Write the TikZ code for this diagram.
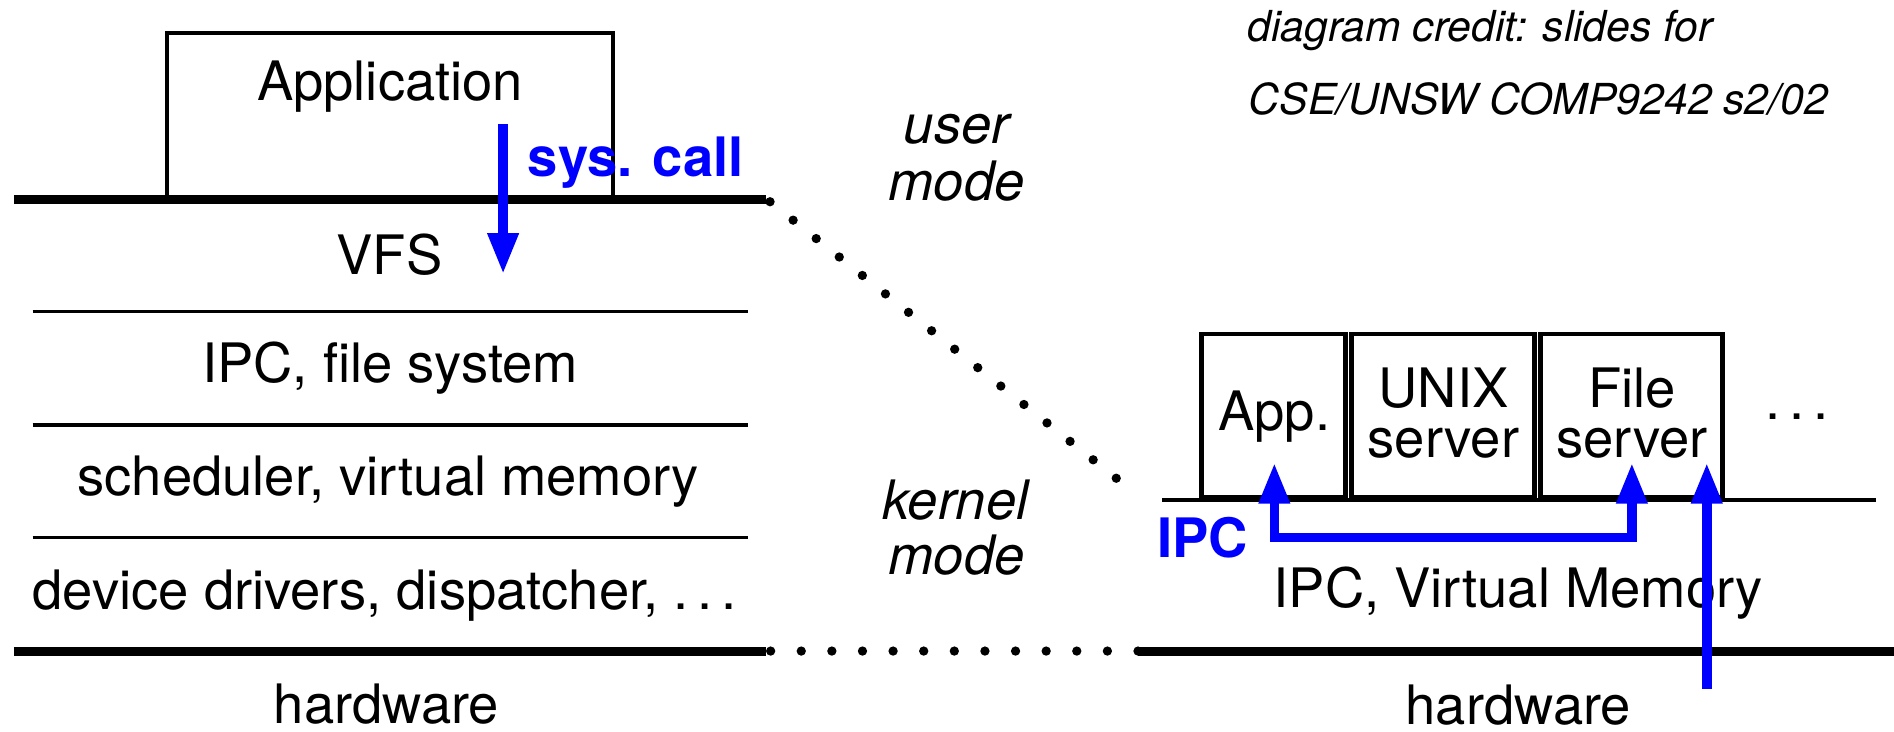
\documentclass[tikz,border=0pt]{standalone}
\usepackage{fontspec}
\setmainfont{TeX Gyre Heros}
\usetikzlibrary{arrows.meta}
\newcommand{\spdots}{.\kern0.16em.\kern0.16em.}
\begin{document}
\begin{tikzpicture}[x=0.01cm,y=-0.01cm,
  txt/.style={font=\fontsize{12.8}{14}\selectfont, inner sep=0pt, outer sep=0pt, anchor=base},
  itxt/.style={txt, font=\fontsize{12.8}{14}\selectfont\itshape},
  btxt/.style={txt, font=\fontsize{12.8}{14}\selectfont\bfseries, text=blue, anchor=base west},
  credit/.style={font=\fontsize{10.05}{12}\selectfont\itshape, inner sep=0pt, outer sep=0pt, anchor=base west},
  thickbar/.style={line width=0.075cm},
  thinbar/.style={line width=0.028cm},
  boxline/.style={draw, line width=0.036cm, inner sep=0pt, outer sep=0pt},
  dotsdiag/.style={line width=0.077cm, line cap=round, dash pattern=on 0pt off 0.2444cm},
  dotshoriz/.style={line width=0.077cm, line cap=round, dash pattern=on 0pt off 0.2533cm},
  bluearrow/.style={draw=blue, line width=0.08cm, -{Triangle[length=0.34cm,width=0.24cm]}},
  bluearrows/.style={draw=blue, line width=0.08cm, line join=miter, {Triangle[length=0.34cm,width=0.24cm]}-{Triangle[length=0.34cm,width=0.24cm]}},
]
\useasboundingbox (0,0) rectangle (1568,606);

% ---------- left: monolithic kernel ----------
\node[boxline, minimum width=3.693cm, minimum height=1.378cm] (appbox) at (322.95,96.1) {};
\node[txt] (apptext) at (323,83.6) {Application};

\coordinate (tl1) at (11.5,165);
\coordinate (tl2) at (634.5,165);
\draw[thickbar] (tl1) -- (tl2);

\node[txt] (vfs) at (322.5,227.6) {VFS};
\coordinate (s1a) at (27,258);  \coordinate (s1b) at (619,258);
\coordinate (s2a) at (27,352);  \coordinate (s2b) at (619,352);
\coordinate (s3a) at (27,445);  \coordinate (s3b) at (619,445);
\draw[thinbar] (s1a) -- (s1b);
\draw[thinbar] (s2a) -- (s2b);
\draw[thinbar] (s3a) -- (s3b);
\node[txt] (ipcfs) at (323,317) {IPC, file system};
\node[txt] (sched) at (321.5,410.6) {scheduler, virtual memory};
\node[txt] (devdrv) at (318.5,505) {device drivers, dispatcher, \spdots};

\coordinate (bl1) at (11.5,539);
\coordinate (bl2) at (634.5,539);
\draw[thickbar] (bl1) -- (bl2);
\node[txt] (hwleft) at (320,599) {hardware};

% ---------- middle ----------
\node[itxt] (user) at (792,119) {user};
\node[itxt] (umode) at (792,165.6) {mode};
\node[itxt] (kernel) at (791,430) {kernel};
\node[itxt] (kmode) at (792,476) {mode};

\coordinate (dd1) at (637.5,167);
\coordinate (dd2) at (943,411);
\draw[dotsdiag] (dd1) -- (dd2);
\coordinate (dh1) at (638,539);
\coordinate (dh2) at (942.5,539);
\draw[dotshoriz] (dh1) -- (dh2);

% ---------- right: microkernel ----------
\node[credit] (credit1) at (1033,34.5) {diagram credit: slides for};
\node[credit] (credit2) at (1034,95) {CSE/UNSW COMP9242 s2/02};

\node[boxline, minimum width=1.192cm, minimum height=1.353cm] (appb) at (1054.4,344.05) {};
\node[boxline, minimum width=1.514cm, minimum height=1.353cm] (unixb) at (1194.7,344.05) {};
\node[boxline, minimum width=1.506cm, minimum height=1.353cm] (fileb) at (1350.7,344.05) {};
\node[txt] (apptxt) at (1055,356) {App.};
\node[txt] (unixtxt) at (1195,337) {UNIX};
\node[txt] (unixsrv) at (1195,379) {server};
\node[txt] (filetxt) at (1351,337) {File};
\node[txt] (filesrv) at (1351,379) {server};
\node[txt] (moredots) at (1488,347) {\spdots};

\coordinate (rl1) at (962,414);
\coordinate (rl2) at (1553,414);
\draw[thinbar] (rl1) -- (rl2);

\node[txt] (ipcvm) at (1257,503) {IPC, Virtual Memory};
\coordinate (br1) at (942,539);
\coordinate (br2) at (1568,539);
\draw[thickbar] (br1) -- (br2);
\node[txt] (hwright) at (1257,600) {hardware};

% ---------- blue arrows ----------
\node[btxt] (syscall) at (437,146) {sys. call};
\coordinate (sc1) at (416.5,103);
\coordinate (sc2) at (416.5,227);
\draw[bluearrow] (sc1) -- (sc2);

\node[btxt] (ipclabel) at (958,461.6) {IPC};
\coordinate (ipcA) at (1055,383);
\coordinate (ipcl) at (1055,445);
\coordinate (ipcr) at (1351,445);
\coordinate (ipcF) at (1351,383);
\draw[bluearrows] (ipcA) -- (ipcl) -- (ipcr) -- (ipcF);

\coordinate (hw1) at (1413,570);
\coordinate (hw2) at (1413,383);
\draw[bluearrow] (hw1) -- (hw2);
\end{tikzpicture}
\end{document}
